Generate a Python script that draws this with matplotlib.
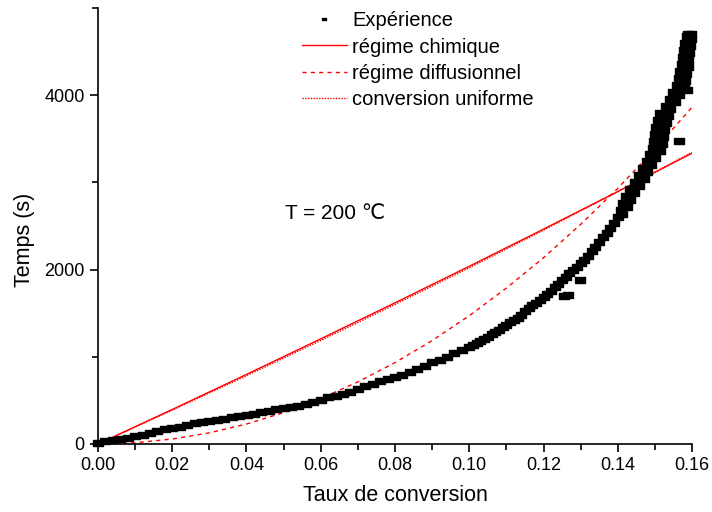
import matplotlib
matplotlib.use("Agg")
import matplotlib.pyplot as plt
from matplotlib.ticker import MultipleLocator

plt.rcParams["font.family"] = ["Liberation Sans", "DejaVu Sans"]

# experimental points (taux de conversion, temps en s)
exp_x = [
    0.000, 0.002, 0.004, 0.006, 0.008, 0.010, 0.012, 0.014, 0.016, 0.018,
    0.020, 0.022, 0.024, 0.026, 0.028, 0.030, 0.032, 0.034, 0.036, 0.038,
    0.040, 0.042, 0.044, 0.046, 0.048, 0.050, 0.052, 0.054, 0.056, 0.058,
    0.060, 0.062, 0.064, 0.066, 0.068, 0.070, 0.072, 0.074, 0.076, 0.078,
    0.080, 0.082, 0.084, 0.086, 0.088, 0.090, 0.092, 0.094, 0.096, 0.098,
    0.100, 0.101, 0.102, 0.103, 0.104, 0.105, 0.106, 0.107, 0.108, 0.109,
    0.110, 0.111, 0.112, 0.113, 0.114, 0.115, 0.116, 0.117, 0.118, 0.119,
    0.120, 0.121, 0.122, 0.123, 0.124, 0.1255, 0.1265, 0.125, 0.126, 0.127,
    0.128, 0.1298, 0.129, 0.130, 0.131, 0.132, 0.133, 0.134, 0.135, 0.136,
    0.137, 0.138, 0.139,
    0.1400, 0.1412, 0.1408, 0.1424, 0.1414, 0.1432, 0.1422, 0.1445, 0.1434, 0.1458,
    0.1446, 0.1470, 0.1458, 0.1480, 0.1468, 0.1490, 0.1478, 0.1500, 0.1486, 0.1515,
    0.1495, 0.1518, 0.1498, 0.1522, 0.1500, 0.1524, 0.1504, 0.1530, 0.1508, 0.1535,
    0.1514, 0.1540, 0.1530, 0.1555, 0.1540, 0.1565, 0.1550, 0.1578, 0.1560, 0.1582,
    0.1565, 0.1585, 0.1568, 0.1588, 0.1572, 0.1590, 0.1575, 0.1592, 0.1578, 0.1594,
    0.1582, 0.1596, 0.1586, 0.1596, 0.1590, 0.1565, 0.1587,
]
exp_y = [
    15, 30, 45, 60, 72, 90, 108, 125, 145, 168,
    180, 195, 215, 238, 250, 262, 275, 290, 305, 318,
    330, 345, 365, 380, 400, 412, 425, 440, 460, 480,
    510, 535, 555, 575, 600, 630, 660, 690, 720, 745,
    765, 790, 820, 860, 900, 935, 960, 995, 1040, 1080,
    1110, 1135, 1160, 1180, 1205, 1230, 1260, 1285, 1310, 1340,
    1370, 1395, 1420, 1450, 1480, 1520, 1560, 1590, 1620, 1655,
    1690, 1725, 1760, 1800, 1840, 1700, 1705, 1880, 1920, 1960,
    2000, 1880, 2035, 2070, 2115, 2160, 2210, 2260, 2315, 2370,
    2425, 2480, 2530,
    2600, 2640, 2680, 2720, 2760, 2800, 2840, 2880, 2920, 2960,
    3000, 3040, 3080, 3120, 3160, 3200, 3240, 3280, 3320, 3360,
    3400, 3440, 3480, 3520, 3560, 3600, 3640, 3680, 3720, 3760,
    3800, 3840, 3880, 3920, 3960, 4000, 4040, 4080, 4120, 4160,
    4200, 4240, 4280, 4320, 4360, 4400, 4440, 4480, 4520, 4560,
    4600, 4640, 4680, 4700, 4700, 3480, 4060,
]

# model curves
model_x = [0.00, 0.02, 0.04, 0.06, 0.08, 0.10, 0.12, 0.14, 0.16]
chim_y = [0, 396, 798, 1206, 1619, 2038, 2464, 2895, 3335]
unif_y = [0, 388, 783, 1187, 1600, 2021, 2452, 2894, 3345]

diff_x = [0.00, 0.01, 0.02, 0.03, 0.04, 0.05, 0.06, 0.07, 0.08,
          0.09, 0.10, 0.11, 0.12, 0.13, 0.14, 0.15, 0.16]
diff_y = [0, 14, 57, 128, 229, 360, 521, 712, 933,
          1186, 1471, 1788, 2136, 2518, 2932, 3380, 3862]

fig = plt.figure(figsize=(7.12, 5.12), dpi=100)
ax = fig.add_axes([98 / 712, 68 / 512, 594 / 712, 436 / 512])

rect = [(-1, -0.6), (1, -0.6), (1, 0.6), (-1, 0.6), (-1, -0.6)]
ax.plot(exp_x, exp_y, linestyle="none", marker=rect, markersize=7,
        color="black", label="Expérience", clip_on=False, zorder=3)
ax.plot(model_x, chim_y, color="red", lw=1.0, label="régime chimique")
ax.plot(diff_x, diff_y, color="red", lw=1.0, ls=(0, (3, 3)),
        label="régime diffusionnel")
ax.plot(model_x, unif_y, color="red", lw=1.0, ls=(0, (1, 1)),
        label="conversion uniforme")

ax.set_xlim(0, 0.16)
ax.set_ylim(0, 5000)
ax.xaxis.set_major_locator(MultipleLocator(0.02))
ax.xaxis.set_minor_locator(MultipleLocator(0.01))
ax.yaxis.set_major_locator(MultipleLocator(2000))
ax.yaxis.set_minor_locator(MultipleLocator(1000))
ax.xaxis.set_major_formatter(plt.FuncFormatter(lambda v, p: f"{v:.2f}"))

for s in ["top", "right"]:
    ax.spines[s].set_visible(False)
for s in ["left", "bottom"]:
    ax.spines[s].set_linewidth(1.2)

ax.tick_params(which="major", direction="out", length=6, width=1.2,
               labelsize=13)
ax.tick_params(which="minor", direction="out", length=4, width=1.2)

ax.set_xlabel("Taux de conversion", fontsize=15.5, labelpad=8)
ax.set_ylabel("Temps (s)", fontsize=15.5)
ax.yaxis.set_label_coords(-0.106, 0.468)

ax.text(0.0504, 2648, "T = 200 ℃", fontsize=15, va="center", ha="left")

leg = ax.legend(loc="upper left", bbox_to_anchor=(0.343, 0.993), frameon=False,
                fontsize=14.5, handlelength=2.24, handletextpad=0.25,
                labelspacing=0.37, borderpad=0, borderaxespad=0,
                markerscale=0.45)

fig.savefig("out.png", dpi=100)
